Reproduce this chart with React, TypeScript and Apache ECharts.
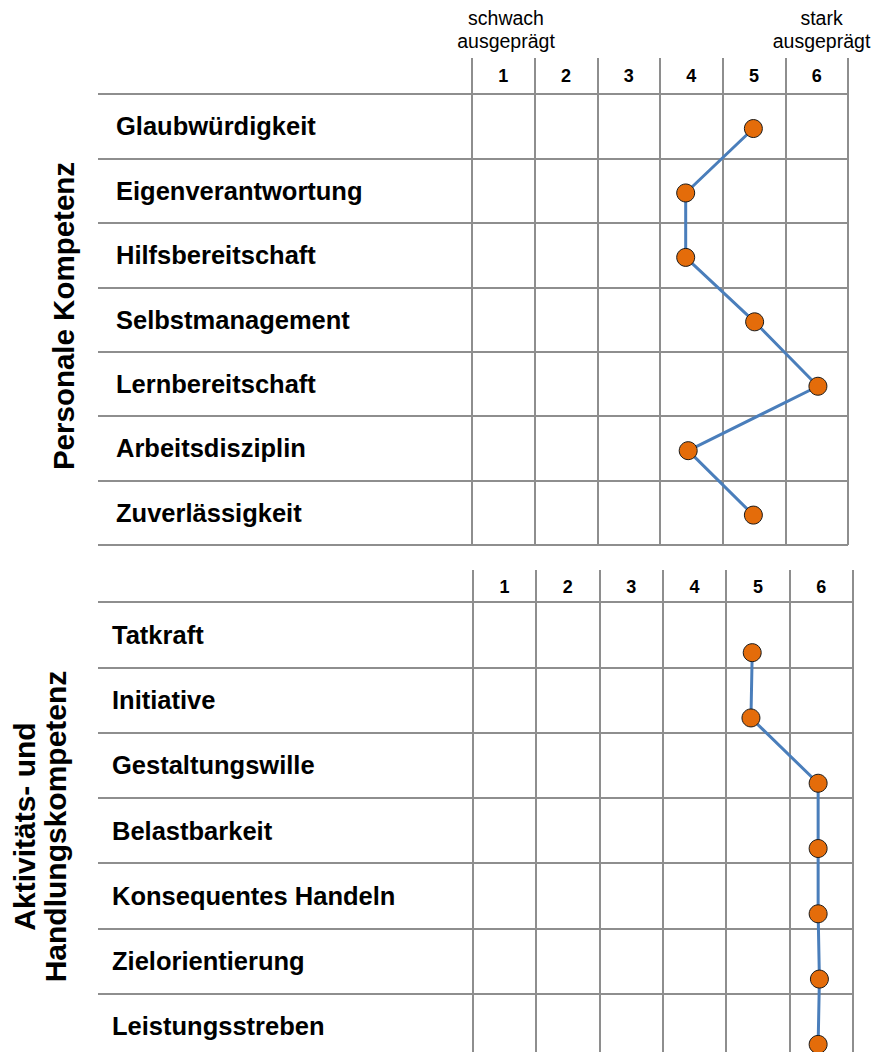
import React, { useEffect, useRef } from "react";
import * as echarts from "echarts";

const scaleLabels = ["1", "2", "3", "4", "5", "6"];

const personalCategories = [
  "Glaubwürdigkeit",
  "Eigenverantwortung",
  "Hilfsbereitschaft",
  "Selbstmanagement",
  "Lernbereitschaft",
  "Arbeitsdisziplin",
  "Zuverlässigkeit",
];
const personalValues = [4.99, 3.91, 3.91, 5.01, 6.02, 3.95, 4.99];

const activityCategories = [
  "Tatkraft",
  "Initiative",
  "Gestaltungswille",
  "Belastbarkeit",
  "Konsequentes Handeln",
  "Zielorientierung",
  "Leistungsstreben",
];
const activityValues = [4.91, 4.89, 5.95, 5.95, 5.95, 5.97, 5.95];

const personalTitle = "Personale Kompetenz";
const activityTitle = "Aktivitäts- und\nHandlungskompetenz";
const lowLabel = "schwach\nausgeprägt";
const highLabel = "stark\nausgeprägt";

const FONT = "'Liberation Sans', Arial, Helvetica, sans-serif";
const GRID_COLOR = "#8e8e8e";
const LINE_COLOR = "#4A7EBB";
const DOT_COLOR = "#E46C0A";

export default function App() {
  const ref = useRef<HTMLDivElement>(null);

  useEffect(() => {
    if (!ref.current) return;
    const chart = echarts.init(ref.current, undefined, { renderer: "svg" });

    const gridLine = { color: GRID_COLOR, width: 2 };

    const labelAxis = (gridIndex: number, data: string[], margin: number) => ({
      gridIndex,
      type: "category",
      inverse: true,
      data,
      boundaryGap: true,
      axisLine: { show: false },
      axisTick: { show: false },
      axisLabel: {
        inside: true,
        margin,
        color: "#000",
        fontFamily: FONT,
        fontWeight: "bold",
        fontSize: 25.5,
      },
      splitLine: { show: true, lineStyle: gridLine },
    });

    const scaleAxis = (gridIndex: number, tickLen: number, margin: number) => ({
      gridIndex,
      type: "category",
      position: "top",
      data: scaleLabels,
      boundaryGap: true,
      axisLine: { show: true, onZero: false, lineStyle: gridLine },
      axisTick: { show: true, length: tickLen, interval: 0, lineStyle: gridLine },
      axisLabel: {
        margin,
        interval: 0,
        color: "#000",
        fontFamily: FONT,
        fontWeight: "bold",
        fontSize: 18,
      },
      splitLine: { show: true, interval: 0, lineStyle: gridLine },
    });

    const seriesStyle = {
      type: "line",
      symbol: "circle",
      symbolSize: 18,
      itemStyle: { color: DOT_COLOR, borderColor: "#1a1a1a", borderWidth: 1 },
      lineStyle: { color: LINE_COLOR, width: 3 },
      z: 5,
    };

    const option: any = {
      animation: false,
      backgroundColor: "#ffffff",
      grid: [
        { left: 98, top: 94, width: 750, height: 451, outerBoundsMode: "none" },
        { left: 472, top: 94, width: 376, height: 451, outerBoundsMode: "none" },
        { left: 98, top: 602, width: 755, height: 457, outerBoundsMode: "none" },
        { left: 472.7, top: 602, width: 380.3, height: 457, outerBoundsMode: "none" },
      ],
      xAxis: [
        { gridIndex: 0, type: "value", show: false, min: 0, max: 1 },
        scaleAxis(1, 36, 9),
        { gridIndex: 1, type: "value", show: false, min: 0.5, max: 6.5 },
        { gridIndex: 2, type: "value", show: false, min: 0, max: 1 },
        scaleAxis(3, 32, 6),
        { gridIndex: 3, type: "value", show: false, min: 0.5, max: 6.5 },
      ],
      yAxis: [
        labelAxis(0, personalCategories, 18),
        { gridIndex: 1, type: "value", show: false, inverse: true, min: -0.536, max: 6.464 },
        labelAxis(2, activityCategories, 14),
        { gridIndex: 3, type: "value", show: false, inverse: true, min: -0.776, max: 6.224 },
      ],
      series: [
        {
          ...seriesStyle,
          xAxisIndex: 2,
          yAxisIndex: 1,
          data: personalValues.map((v, i) => [v, i]),
        },
        {
          ...seriesStyle,
          xAxisIndex: 5,
          yAxisIndex: 3,
          data: activityValues.map((v, i) => [v, i]),
        },
      ],
      graphic: [
        {
          type: "text",
          x: 506,
          y: 29.7,
          style: {
            text: lowLabel,
            fill: "#000",
            fontFamily: FONT,
            fontSize: 19.5,
            lineHeight: 23.3,
            align: "center",
            verticalAlign: "middle",
          },
        },
        {
          type: "text",
          x: 821.5,
          y: 29.7,
          style: {
            text: highLabel,
            fill: "#000",
            fontFamily: FONT,
            fontSize: 19.5,
            lineHeight: 23.3,
            align: "center",
            verticalAlign: "middle",
          },
        },
        {
          type: "text",
          x: 63,
          y: 316,
          rotation: Math.PI / 2,
          style: {
            text: personalTitle,
            fill: "#000",
            fontFamily: FONT,
            fontWeight: "bold",
            fontSize: 29.5,
            align: "center",
            verticalAlign: "middle",
          },
        },
        {
          type: "text",
          x: 40,
          y: 826.5,
          rotation: Math.PI / 2,
          style: {
            text: activityTitle,
            fill: "#000",
            fontFamily: FONT,
            fontWeight: "bold",
            fontSize: 30,
            lineHeight: 31.2,
            align: "center",
            verticalAlign: "middle",
          },
        },
      ],
    };

    chart.setOption(option);
    return () => chart.dispose();
  }, []);

  return (
    <div
      style={{
        position: "absolute",
        left: 0,
        top: 0,
        width: 874,
        height: 1052,
        overflow: "hidden",
        background: "#fff",
      }}
    >
      <div ref={ref} style={{ width: 874, height: 1070 }} />
    </div>
  );
}
